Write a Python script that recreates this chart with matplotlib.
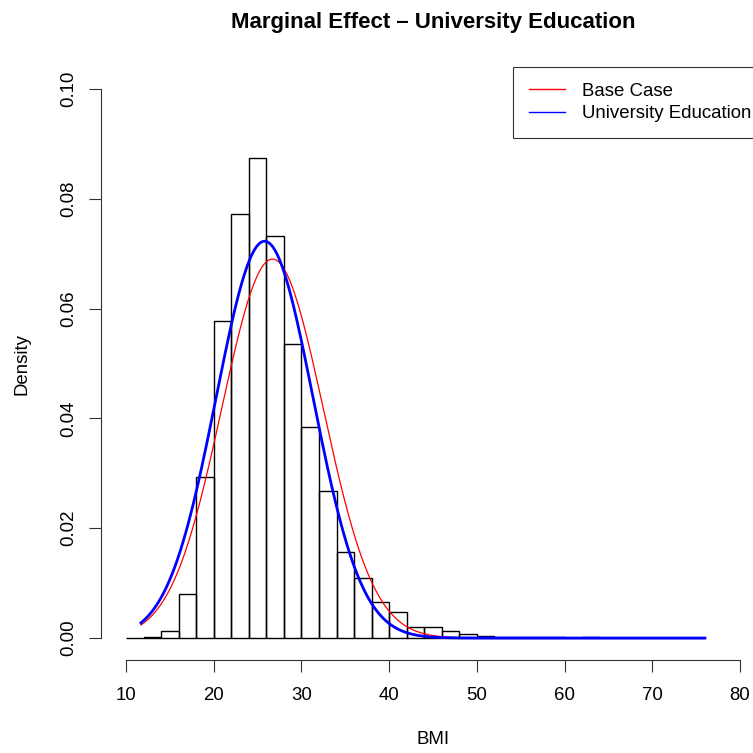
import numpy as np
import matplotlib.pyplot as plt
from matplotlib.lines import Line2D

plt.rcParams['font.family'] = ['Liberation Sans', 'DejaVu Sans']

# BMI histogram, 2-unit bins from 10 to 76 (density scale)
bin_edges = np.arange(10, 78, 2)
densities = [0.00003, 0.0002, 0.0013, 0.0081, 0.0293, 0.0577, 0.0773, 0.0875,
             0.0732, 0.0535, 0.0384, 0.0267, 0.0157, 0.0109, 0.0066, 0.0048,
             0.0021, 0.0020, 0.0013, 0.0007, 0.0004, 0.0002, 0.0001, 0.0002,
             0.0001, 0.00005, 0.0001, 0.00005, 0.00003, 0.00002, 0.00001,
             0.00001, 0.00002]

# fitted normal densities (mean, sd) for the two scenarios
bmi_min, bmi_max = 11.7, 76.0
base_mean, base_sd = 26.7, 5.78
uni_mean, uni_sd = 25.8, 5.52

x_ticks = [10, 20, 30, 40, 50, 60, 70, 80]
y_ticks = [0.00, 0.02, 0.04, 0.06, 0.08, 0.10]

base_fs = 13.4


def norm_pdf(x, mu, sd):
    return np.exp(-0.5 * ((x - mu) / sd) ** 2) / (sd * np.sqrt(2 * np.pi))


fig = plt.figure(figsize=(7.53, 7.53), dpi=100)
ax = fig.add_axes([0.1347, 0.1235, 0.8807, 0.7875])

ax.bar(bin_edges[:-1], densities, width=2, align='edge', fill=False,
       edgecolor='black', linewidth=1.0)

xs = np.linspace(bmi_min, bmi_max, 400)
ax.plot(xs, norm_pdf(xs, base_mean, base_sd), color='red', lw=0.9)
ax.plot(xs, norm_pdf(xs, uni_mean, uni_sd), color='blue', lw=2.0)

ax.set_xlim(7.2, 82.8)
ax.set_ylim(-0.004, 0.104)

for side in ['top', 'right']:
    ax.spines[side].set_visible(False)
ax.spines['left'].set_bounds(0, 0.10)
ax.spines['bottom'].set_bounds(10, 80)
for side in ['left', 'bottom']:
    ax.spines[side].set_linewidth(0.8)
    ax.spines[side].set_color('#333333')

ax.set_xticks(x_ticks)
ax.set_xticklabels([str(v) for v in x_ticks])
ax.set_yticks(y_ticks)
ax.set_yticklabels(['%.2f' % v for v in y_ticks], rotation=90, va='center')
ax.tick_params(axis='both', direction='out', length=8.6, width=0.8,
               color='#333333', labelsize=base_fs)
ax.tick_params(axis='x', pad=11)
ax.tick_params(axis='y', pad=9)

ax.set_xlabel('BMI', fontsize=base_fs, labelpad=19)
ax.set_ylabel('Density', fontsize=base_fs, labelpad=21.5)
ax.set_title('Marginal Effect \u2013 University Education', fontsize=16,
             fontweight='bold', pad=28)

handles = [Line2D([], [], color='red', lw=1.0),
           Line2D([], [], color='blue', lw=1.0)]
leg = ax.legend(handles, ['Base Case', 'University Education'],
                loc='upper right', bbox_to_anchor=(1.0036, 1.0),
                borderaxespad=0, fancybox=False, fontsize=base_fs,
                handlelength=1.94, handletextpad=0.9, labelspacing=0.3,
                borderpad=0.84)
leg.get_frame().set_edgecolor('black')
leg.get_frame().set_linewidth(0.8)

fig.savefig('out.png', dpi=100)
